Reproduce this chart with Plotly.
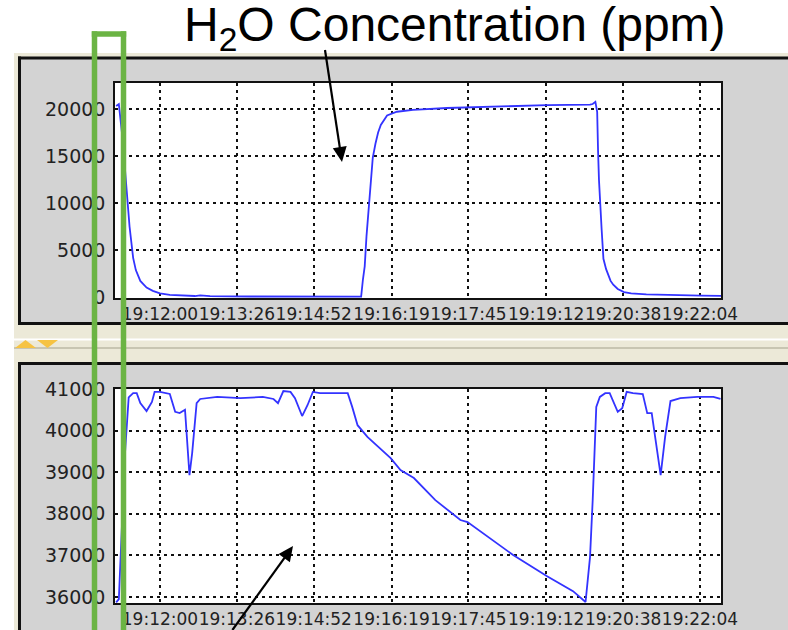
import plotly.graph_objects as go

W, H = 788, 630
BASE = "2000-01-01 "

# ---- data ----
tick_labels = ["19:12:00", "19:13:26", "19:14:52", "19:16:19",
               "19:17:45", "19:19:12", "19:20:38", "19:22:04"]

h2o_time = ["19:11:11", "19:11:14", "19:11:18", "19:11:23", "19:11:26", "19:11:30",
            "19:11:33", "19:11:38", "19:11:45", "19:11:52", "19:12:00", "19:12:11",
            "19:12:22", "19:12:39", "19:12:45", "19:12:56", "19:13:41", "19:14:37",
            "19:15:45", "19:15:47", "19:15:49", "19:15:51", "19:15:54", "19:15:56",
            "19:15:58", "19:16:01", "19:16:04", "19:16:07", "19:16:14", "19:16:25",
            "19:16:43", "19:17:21", "19:18:17", "19:19:13", "19:20:01", "19:20:04",
            "19:20:07", "19:20:09", "19:20:10", "19:20:11", "19:20:14", "19:20:16",
            "19:20:19", "19:20:22", "19:20:24", "19:20:27", "19:20:32", "19:20:39",
            "19:20:47", "19:21:04", "19:21:20", "19:22:05", "19:22:28"]
h2o_ppm = [20300, 20500, 17000, 11000, 7500, 4200,
           2900, 1750, 1050, 700, 430, 280,
           200, 150, 220, 130, 100, 90,
           80, 1900, 3300, 6500, 10100, 12800,
           14800, 16300, 17500, 18300, 19300, 19700,
           19900, 20100, 20250, 20400, 20450, 20520,
           20750, 19700, 15500, 12500, 7200, 4100,
           3000, 2300, 1750, 1350, 900, 560,
           430, 330, 280, 200, 170]

low_time = ["19:11:11", "19:11:14", "19:11:21", "19:11:23", "19:11:25", "19:11:30",
            "19:11:34", "19:11:38", "19:11:45", "19:11:51", "19:11:54", "19:12:00",
            "19:12:11", "19:12:17", "19:12:22", "19:12:28", "19:12:33", "19:12:36",
            "19:12:41", "19:12:45", "19:13:04", "19:13:30", "19:13:55", "19:14:07",
            "19:14:12", "19:14:18", "19:14:26", "19:14:31", "19:14:39", "19:14:45",
            "19:14:51", "19:14:59", "19:15:30", "19:15:35", "19:15:41", "19:15:52",
            "19:16:18", "19:16:29", "19:16:44", "19:17:08", "19:17:36", "19:17:44",
            "19:18:35", "19:19:13", "19:19:42", "19:19:56", "19:20:01", "19:20:04",
            "19:20:08", "19:20:12", "19:20:18", "19:20:23", "19:20:32", "19:20:37",
            "19:20:42", "19:20:49", "19:21:00", "19:21:05", "19:21:10", "19:21:20",
            "19:21:25", "19:21:31", "19:21:42", "19:22:01", "19:22:19", "19:22:27"]
low_vals = [35870, 35950, 39500, 40100, 40800, 40900,
            40900, 40660, 40470, 40690, 40930, 40930,
            40880, 40450, 40420, 40500, 38930, 39460,
            40660, 40760, 40810, 40780, 40810, 40760,
            40660, 40950, 40930, 40780, 40350, 40610,
            40930, 40900, 40900, 40570, 40130, 39850,
            39340, 39050, 38860, 38330, 37850, 37800,
            37010, 36500, 36140, 35880, 36960, 38330,
            40570, 40810, 40900, 40900, 40450, 40540,
            40930, 40900, 40880, 40420, 40420, 38930,
            39850, 40710, 40780, 40810, 40810, 40760]

top_ticks = [0, 5000, 10000, 15000, 20000]
low_ticks = [36000, 37000, 38000, 39000, 40000, 41000]

title_text = "H<sub>2</sub>O Concentration (ppm)"


def t(s):
    return BASE + s


def px(x):
    return min(max(x, 0), W) / W


def py(y):
    return 1 - min(max(y, 0), H) / H


LINE = "#3333ff"
fig = go.Figure()
fig.add_trace(go.Scatter(x=[t(s) for s in h2o_time], y=h2o_ppm, mode="lines",
                         line=dict(color=LINE, width=1.8), xaxis="x", yaxis="y",
                         showlegend=False))
fig.add_trace(go.Scatter(x=[t(s) for s in low_time], y=low_vals, mode="lines",
                         line=dict(color=LINE, width=1.8), xaxis="x2", yaxis="y2",
                         showlegend=False))

xr = [t("19:11:09.7"), t("19:22:27.5")]
common_x = dict(type="date", range=xr, tickvals=[t(s) for s in tick_labels],
                ticktext=tick_labels, tickangle=0, showgrid=True, gridcolor="#111",
                griddash="3px,4px", gridwidth=1.5, showline=True, linecolor="#111",
                linewidth=1.5, mirror=True, zeroline=False, ticks="",
                automargin=False,
                tickfont=dict(family="DejaVu Sans", size=17, color="#222"))
common_y = dict(showgrid=True, gridcolor="#111", griddash="3px,4px", gridwidth=1.5,
                showline=True, linecolor="#111", linewidth=1.5, mirror=True,
                zeroline=False, ticks="", ticklabelstandoff=4, automargin=False,
                tickfont=dict(family="DejaVu Sans", size=19, color="#222"))

fig.update_layout(
    width=W, height=H, margin=dict(l=0, r=0, t=0, b=0, pad=0, autoexpand=False),
    paper_bgcolor="white", plot_bgcolor="white",
    xaxis=dict(domain=[px(115), px(721)], anchor="y", **common_x),
    yaxis=dict(domain=[py(298), py(83)], range=[-60, 22750], tickvals=top_ticks,
               ticktext=[str(v) for v in top_ticks], anchor="x", **common_y),
    xaxis2=dict(domain=[px(115), px(721)], anchor="y2", **common_x),
    yaxis2=dict(domain=[py(603), py(389)], range=[35856, 41000], tickvals=low_ticks,
                ticktext=[str(v) for v in low_ticks], anchor="x2", **common_y),
)

shapes = []


def hline(x0, x1, y, color, width, layer="below"):
    return dict(type="line", xref="paper", yref="paper", layer=layer,
                x0=px(x0), x1=px(x1), y0=py(y), y1=py(y),
                line=dict(color=color, width=width))


def vline(x, y0, y1, color, width, layer="below"):
    return dict(type="line", xref="paper", yref="paper", layer=layer,
                x0=px(x), x1=px(x), y0=py(y0), y1=py(y1),
                line=dict(color=color, width=width))


def rect(x0, y0, x1, y1, color):
    return dict(type="rect", xref="paper", yref="paper", layer="below",
                x0=px(x0), x1=px(x1), y0=py(y0), y1=py(y1),
                fillcolor=color, line=dict(width=0))


# beige window background
shapes.append(rect(14, 53, W, H, "#ECE9D8"))
# gray panels with black borders on top/left/bottom
shapes.append(rect(19.5, 58, W, 323.5, "#D3D3D3"))
shapes.append(hline(18, W, 58, "#111", 3))
shapes.append(hline(18, W, 323.5, "#111", 3))
shapes.append(vline(19.5, 56.5, 325, "#111", 3))
shapes.append(rect(19.5, 363.5, W, H, "#D3D3D3"))
shapes.append(hline(18, W, 363.5, "#111", 3))
shapes.append(vline(19.5, 362, H, "#111", 3))
# white plotting areas
shapes.append(rect(115, 83, 721, 298, "white"))
shapes.append(rect(115, 389, 721, 603, "white"))
# splitter lines
shapes.append(hline(14, W, 339.5, "white", 2))
shapes.append(hline(14, W, 348, "#BDB9A6", 1.5))


def poly(points):
    return "M " + " L ".join(f"{px(a):.5f},{py(b):.5f}" for a, b in points) + " Z"


shapes.append(dict(type="path", xref="paper", yref="paper",
                   path=poly([(15, 348), (36, 348), (25.5, 340)]),
                   fillcolor="#F6C343", line=dict(width=0)))
shapes.append(dict(type="path", xref="paper", yref="paper",
                   path=poly([(37, 340), (58, 340), (47.5, 348)]),
                   fillcolor="#F6C343", line=dict(width=0)))


def arrow(tail, tip, hl=15, hw=7):
    dx, dy = tip[0] - tail[0], tip[1] - tail[1]
    L = (dx * dx + dy * dy) ** 0.5
    ux, uy = dx / L, dy / L
    nx, ny = -uy, ux
    bx, by = tip[0] - hl * ux, tip[1] - hl * uy
    out = [dict(type="line", xref="paper", yref="paper",
                x0=px(tail[0]), y0=py(tail[1]), x1=px(bx + 2 * ux), y1=py(by + 2 * uy),
                line=dict(color="black", width=2.2))]
    out.append(dict(type="path", xref="paper", yref="paper",
                    path=poly([tip, (bx + hw * nx, by + hw * ny), (bx - hw * nx, by - hw * ny)]),
                    fillcolor="black", line=dict(width=0)))
    return out


shapes += arrow((325, 50), (342, 162))
shapes += arrow((232.4, 630), (293, 546))

# green highlight box (open at the bottom edge of the picture)
GREEN = "#6BB444"
shapes.append(vline(94.5, 31.3, H, GREEN, 5.5, layer="above"))
shapes.append(vline(123.5, 31.3, H, GREEN, 5.5, layer="above"))
shapes.append(hline(91.8, 126.2, 34, GREEN, 5.5, layer="above"))

fig.update_layout(shapes=shapes)

fig.add_annotation(text=title_text, xref="paper", yref="paper", x=px(455), y=py(28),
                   xanchor="center", yanchor="middle", showarrow=False,
                   font=dict(family="Liberation Sans, Arial", size=48, color="black"))

fig.write_html("out.html")
